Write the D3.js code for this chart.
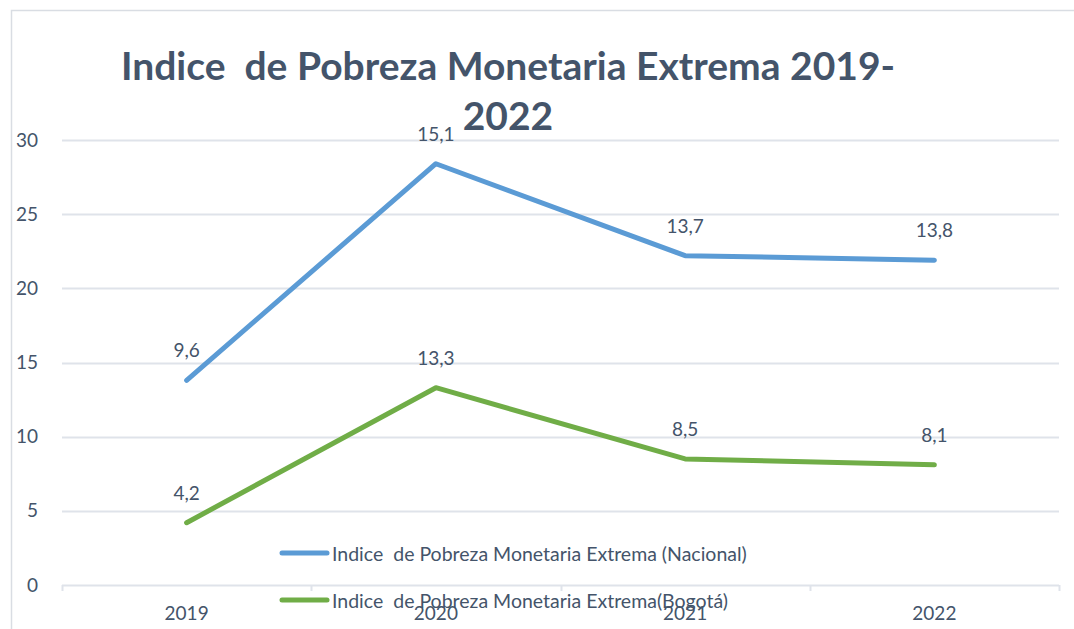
<!DOCTYPE html>
<html>
<head>
<meta charset="utf-8">
<script src="https://cdn.jsdelivr.net/npm/d3@7"></script>
<style>
  body { margin: 0; background: #fff; }
  svg { display: block; font-family: Lato, "Noto Sans", sans-serif; }
</style>
</head>
<body>
<div id="wrapper"></div>
<script>
// Data
const years = ["2019", "2020", "2021", "2022"]
const nacional = [9.6, 15.1, 13.7, 13.8]
const bogota = [4.2, 13.3, 8.5, 8.1]
const yTicks = [0, 5, 10, 15, 20, 25, 30]
const seriesNames = [
    "Indice  de Pobreza Monetaria Extrema (Nacional)",
    "Indice  de Pobreza Monetaria Extrema(Bogotá)"
]
const titleLines = ["Indice  de Pobreza Monetaria Extrema 2019-", "2022"]

const textColor = "#44546a"
const blue = "#5b9bd5"
const green = "#70ad47"

// Dimensions
let dimensions = {
    width: 1074,
    height: 629,
    margins: { top: 140, right: 15, bottom: 44, left: 62 }
}
dimensions.boundedWidth = dimensions.width - dimensions.margins.left - dimensions.margins.right
dimensions.boundedHeight = dimensions.height - dimensions.margins.top - dimensions.margins.bottom

const svg = d3.select("#wrapper")
    .append("svg")
        .attr("width", dimensions.width)
        .attr("height", dimensions.height)

// chart frame
svg.append("rect")
    .attr("x", 11.5).attr("y", 10.5)
    .attr("width", 1100).attr("height", 700)
    .attr("fill", "none")
    .attr("stroke", "#d9dde3")
    .attr("stroke-width", 1.5)

const bounds = svg.append("g")
    .attr("transform", `translate(${dimensions.margins.left},${dimensions.margins.top})`)

// stacked line chart (bogota first, nacional on top)
const table = years.map((y, i) => ({ year: y, bogota: bogota[i], nacional: nacional[i] }))
const stacked = d3.stack().keys(["bogota", "nacional"])(table)

// Scales
const xScale = d3.scaleBand()
    .domain(years)
    .range([0, dimensions.boundedWidth])
const xCenter = d => xScale(d) + xScale.bandwidth() / 2

const yScale = d3.scaleLinear()
    .domain([0, 30])
    .range([dimensions.boundedHeight, 0])

// Gridlines
bounds.append("g")
    .selectAll("line")
    .data(yTicks)
    .join("line")
        .attr("x1", 0)
        .attr("x2", dimensions.boundedWidth)
        .attr("y1", d => Math.round(yScale(d)) + 0.5)
        .attr("y2", d => Math.round(yScale(d)) + 0.5)
        .attr("stroke", "#dfe3ea")
        .attr("stroke-width", 2)

// Y axis
const yAxis = bounds.append("g")
    .call(d3.axisLeft(yScale).tickValues(yTicks).tickSize(0).tickPadding(24))
yAxis.select(".domain").remove()
yAxis.selectAll("text")
    .attr("fill", textColor)
    .style("font-size", "19px")
    .style("font-family", "Lato, sans-serif")

// X axis
const xAxis = bounds.append("g")
    .attr("transform", `translate(0,${dimensions.boundedHeight})`)
    .call(d3.axisBottom(xScale).tickSize(0).tickPadding(22))
xAxis.select(".domain").remove()
xAxis.selectAll("text")
    .attr("fill", textColor)
    .style("font-size", "19px")
    .style("font-family", "Lato, sans-serif")

// category boundary tick marks
bounds.append("g")
    .selectAll("line")
    .data(years.map(y => xScale(y)).concat([dimensions.boundedWidth]))
    .join("line")
        .attr("x1", d => Math.round(d) + 0.5)
        .attr("x2", d => Math.round(d) + 0.5)
        .attr("y1", dimensions.boundedHeight)
        .attr("y2", dimensions.boundedHeight + 6)
        .attr("stroke", "#dfe3ea")
        .attr("stroke-width", 2)

// Lines
const lineGenerator = d3.line()
    .x(d => xCenter(d.data.year))
    .y(d => yScale(d[1]))

const colors = [green, blue]
const rawValues = [bogota, nacional]

stacked.forEach((s, k) => {
    bounds.append("path")
        .attr("d", lineGenerator(s))
        .attr("fill", "none")
        .attr("stroke", colors[k])
        .attr("stroke-width", 5)
        .attr("stroke-linecap", "round")
        .attr("stroke-linejoin", "round")

    bounds.append("g")
        .selectAll("text")
        .data(s)
        .join("text")
            .attr("x", d => xCenter(d.data.year))
            .attr("y", d => yScale(d[1]) - 23)
            .attr("text-anchor", "middle")
            .attr("fill", textColor)
            .style("font-size", "19px")
            .text((d, i) => String(rawValues[k][i]).replace(".", ","))
})

// Title
svg.append("g")
    .selectAll("text")
    .data(titleLines)
    .join("text")
        .attr("x", 508)
        .attr("y", (d, i) => 80 + i * 50)
        .attr("text-anchor", "middle")
        .attr("fill", textColor)
        .attr("xml:space", "preserve")
        .style("white-space", "pre")
        .style("font-size", "39px")
        .style("font-weight", "bold")
        .text(d => d)

// Legend
const legend = svg.append("g")
    .selectAll("g")
    .data([{ name: seriesNames[0], color: blue }, { name: seriesNames[1], color: green }])
    .join("g")
        .attr("transform", (d, i) => `translate(282,${553 + i * 47})`)

legend.append("line")
    .attr("x1", 0).attr("x2", 45)
    .attr("stroke", d => d.color)
    .attr("stroke-width", 5)
    .attr("stroke-linecap", "round")

legend.append("text")
    .attr("x", 50)
    .attr("y", 8)
    .attr("fill", textColor)
    .style("font-size", "19.5px")
    .style("white-space", "pre")
    .attr("xml:space", "preserve")
    .text(d => d.name)
</script>
</body>
</html>
